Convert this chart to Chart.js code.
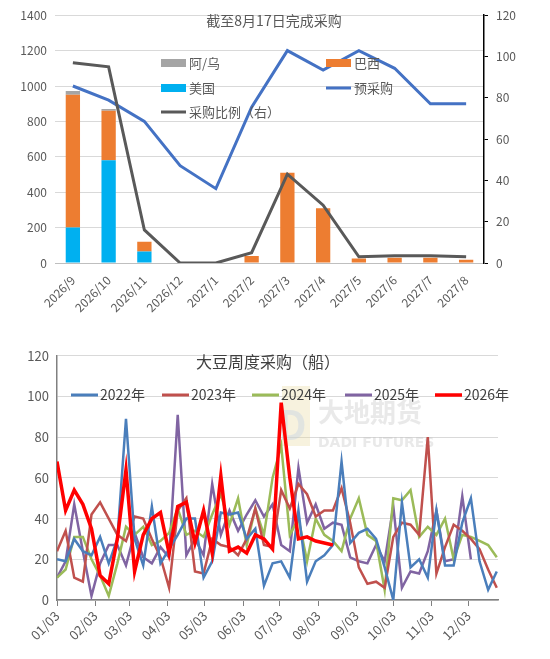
<!DOCTYPE html>
<html><head><meta charset="utf-8">
<script src="https://cdn.jsdelivr.net/npm/chart.js@4.4.0/dist/chart.umd.min.js"></script>
<style>body{margin:0;background:#fff;width:550px;height:659px;overflow:hidden;font-family:"Noto Sans CJK SC";}
#a{position:absolute;left:0;top:0;width:550px;height:320px}#b{position:absolute;left:0;top:340px;width:550px;height:319px}</style>
</head><body>
<div id="a"><canvas id="c1"></canvas></div><div id="b"><canvas id="c2"></canvas></div>
<script>
const months=['2026/9','2026/10','2026/11','2026/12','2027/1','2027/2','2027/3','2027/4','2027/5','2027/6','2027/7','2027/8'];
const usa=[200,580,65,0,0,0,0,0,0,0,0,0];
const brazil=[750,280,55,0,0,40,510,310,25,30,30,18];
const argUru=[22,10,0,0,0,0,0,0,0,0,0,0];
const preBuy=[1000,920,800,550,420,880,1200,1090,1200,1100,900,900];
const ratio=[97,95,16,0,0,5,43,28,3,3.5,3.5,3];
const leftTicks=[0,200,400,600,800,1000,1200,1400];
const rightTicks=[0,20,40,60,80,100,120];

const weekLabels=['01/03','02/03','03/03','04/03','05/03','06/03','07/03','08/03','09/03','10/03','11/03','12/03'];
const weekTickDays=[0,31,59,90,120,151,181,212,243,273,304,334];
const y2022=[20,19,30,24,22,31,18,30,89,30,17,46,18,25,32,40,40,11,19,43,42,43,30,35,7,18,19,11,44,9,19,22,27,68,28,33,35,30,16,0,48,16,20,11,44,17,17,38,50,19,5,14];
const y2023=[24,34,11,9,42,48,40,32,29,41,40,30,21,6,44,50,14,13,30,27,26,22,30,45,27,26,54,45,57,52,41,44,44,55,38,16,8,9,6,31,38,37,32,80,13,26,37,34,30,25,15,6];
const y2024=[11,15,31,31,20,12,2,18,36,32,36,27,29,33,45,32,34,31,42,52,37,50,27,45,32,60,76,32,40,19,40,32,29,24,40,50,32,29,5,50,49,54,31,36,32,40,20,32,31,29,27,21];
const y2025=[11,19,47,24,2,18,27,27,17,33,21,18,26,21,91,22,30,22,57,32,44,34,42,49,41,47,27,24,65,38,47,35,38,37,21,19,18,27,19,46,6,14,13,24,44,19,20,51,20];
const y2026=[68,44,54,47,35,12,8,30,64,14,32,40,43,23,46,48,28,44,23,61,24,26,23,32,30,25,97,60,30,31,29,28,27];

const FONT='"Noto Sans CJK SC"';
const GRAY='#595959';
Chart.defaults.font.family=FONT;
Chart.defaults.animation=false;

function fixW(w){return function(s){s.width=w;};}
function fixH(h){return function(s){s.height=h;};}
const plain=v=>String(v);

const leg1={id:'leg1',afterDraw(c){const x=c.ctx;x.save();x.fillStyle=GRAY;x.textBaseline='middle';
 x.textAlign='center';x.font='14px '+FONT;x.fillText('截至8月17日完成采购',274,21);
 x.font='13px '+FONT;x.textAlign='left';
 const items=[['rect','#A5A5A5','阿/乌',161,63],['rect','#00B0F0','美国',161,88],['line','#595959','采购比例（右）',161,112],['rect','#ED7D31','巴西',326,63],['line','#4472C4','预采购',326,88]];
 for(const [t,col,txt,px,py] of items){x.fillStyle=col;x.strokeStyle=col;
  if(t==='rect'){x.fillRect(px,py-4,25,8);}else{x.lineWidth=3;x.beginPath();x.moveTo(px,py);x.lineTo(px+25,py);x.stroke();}
  x.fillStyle=GRAY;x.fillText(txt,px+28,py);}
 x.restore();}};

new Chart(document.getElementById('c1'),{data:{labels:months,datasets:[
 {type:'line',label:'预采购',data:preBuy,borderColor:'#4472C4',borderWidth:3,pointRadius:0,yAxisID:'y',order:1},
 {type:'line',label:'采购比例（右）',data:ratio,borderColor:'#595959',borderWidth:3,pointRadius:0,yAxisID:'y1',order:0},
 {type:'bar',label:'美国',data:usa,backgroundColor:'#00B0F0',stack:'s',yAxisID:'y',order:2},
 {type:'bar',label:'巴西',data:brazil,backgroundColor:'#ED7D31',stack:'s',yAxisID:'y',order:2},
 {type:'bar',label:'阿/乌',data:argUru,backgroundColor:'#A5A5A5',stack:'s',yAxisID:'y',order:2}]},
 options:{responsive:true,maintainAspectRatio:false,layout:{padding:{top:10,bottom:0,left:0,right:0}},
  datasets:{bar:{barPercentage:0.4,categoryPercentage:1}},
  plugins:{legend:{display:false},tooltip:{enabled:false}},
  scales:{x:{stacked:true,afterFit:fixH(57),grid:{display:false},border:{color:'#BFBFBF'},ticks:{color:GRAY,font:{size:12},maxRotation:45,minRotation:45,padding:2}},
   y:{stacked:true,min:0,max:1400,afterFit:fixW(55),afterBuildTicks(s){s.ticks=leftTicks.map(v=>({value:v}));},grid:{color:'#D9D9D9',lineWidth:1,drawTicks:false},border:{display:false},ticks:{color:GRAY,font:{size:12},padding:8,callback:plain}},
   y1:{position:'right',min:0,max:120,afterFit:fixW(66),afterBuildTicks(s){s.ticks=rightTicks.map(v=>({value:v}));},grid:{drawOnChartArea:false,color:'#000',tickLength:4},border:{color:'#000',width:1.5},ticks:{color:GRAY,font:{size:12},padding:8,callback:plain}}}},
 plugins:[leg1]});

const toPts=a=>a.map((v,i)=>({x:i*7,y:v}));
const cols=['#4A7EBB','#C0504D','#9BBB59','#8064A2','#FF0000'];
const names=['2022年','2023年','2024年','2025年','2026年'];
const leg2={id:'leg2',beforeDatasetsDraw(c){const x=c.ctx;x.save();
 x.globalAlpha=0.35;x.fillStyle='#E8D9A0';x.fillRect(282,46,28,60);x.fillStyle='#B9CCE4';x.font='bold 40px '+FONT;x.fillText('D',278,100);
 x.fillStyle='#BFBFBF';x.font='bold 26px '+FONT;x.textBaseline='alphabetic';x.fillText('大地期货',318,82);
 x.font='bold 14px "DejaVu Sans"';x.fillText('DADI FUTURES',318,107);x.restore();},
 afterDraw(c){const x=c.ctx;x.save();x.fillStyle='#404040';x.textBaseline='middle';x.textAlign='center';x.font='16px '+FONT;x.fillText('大豆周度采购（船）',268,22);
 x.font='14px '+FONT;x.textAlign='left';const xs=[71,162,252,345,435];
 for(let i=0;i<5;i++){x.strokeStyle=cols[i];x.lineWidth=i===4?3.5:3;x.beginPath();x.moveTo(xs[i],55);x.lineTo(xs[i]+27,55);x.stroke();x.fillStyle='#404040';x.fillText(names[i],xs[i]+29,55);}
 x.restore();}};

new Chart(document.getElementById('c2'),{type:'line',data:{datasets:[y2022,y2023,y2024,y2025,y2026].map((d,i)=>({label:names[i],data:toPts(d),borderColor:cols[i],borderWidth:i===4?3.5:2.5,pointRadius:0,tension:0,order:i===4?0:1}))},
 options:{responsive:true,maintainAspectRatio:false,layout:{padding:{top:9,right:52}},plugins:{legend:{display:false},tooltip:{enabled:false}},
  scales:{x:{type:'linear',min:0,max:358,afterFit:fixH(59),afterBuildTicks(s){s.ticks=weekTickDays.map(v=>({value:v}));},
    ticks:{color:GRAY,font:{size:13},maxRotation:45,minRotation:45,padding:2,callback:(v)=>weekLabels[weekTickDays.indexOf(v)]},grid:{drawOnChartArea:false,color:'#808080',tickLength:6},border:{color:'#808080',width:1.5}},
   y:{min:0,max:120,afterFit:fixW(57),afterBuildTicks(s){s.ticks=[0,20,40,60,80,100,120].map(v=>({value:v}));},grid:{color:'#D9D9D9',drawTicks:false},border:{color:'#808080',width:1.5},ticks:{color:GRAY,font:{size:13},padding:8,callback:plain}}}},
 plugins:[leg2]});
</script></body></html>
